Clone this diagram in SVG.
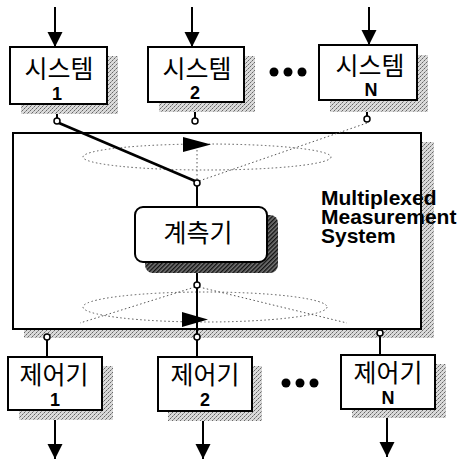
<svg xmlns="http://www.w3.org/2000/svg" width="466" height="460" viewBox="0 0 466 460">
  <defs>
    <!-- light stipple used for drop shadows -->
    <pattern id="stipple" width="4" height="4" patternUnits="userSpaceOnUse">
      <rect width="4" height="4" fill="#dadada"/>
      <rect x="0" y="0" width="1" height="1" fill="#666"/>
      <rect x="2" y="2" width="1" height="1" fill="#666"/>
      <rect x="1" y="3" width="1" height="1" fill="#999"/>
      <rect x="3" y="1" width="1" height="1" fill="#999"/>
    </pattern>
    <!-- dark hatch for the meter shadow -->
    <pattern id="hatch" width="3" height="3" patternUnits="userSpaceOnUse" patternTransform="rotate(45)">
      <rect width="3" height="3" fill="#777"/>
      <rect width="1.4" height="3" fill="#111"/>
    </pattern>
    <marker id="arrow" markerUnits="userSpaceOnUse" markerWidth="16" markerHeight="23" refX="15" refY="7.5" orient="auto" viewBox="0 0 16 15">
      <path d="M0,0 L15,7.5 L0,15 Z" fill="#000"/>
    </marker>
  </defs>
  <style>
    .box { fill: #fff; stroke: #000; stroke-width: 2; }
    .shadow { fill: url(#stipple); }
    .ko { font-family: "Noto Sans CJK KR", "Liberation Sans", sans-serif; font-size: 25px; fill: #000; text-anchor: middle; }
    .num { font-family: "Liberation Sans", Arial, sans-serif; font-weight: bold; font-size: 18px; fill: #000; text-anchor: middle; }
    .title { font-family: "Liberation Sans", Arial, sans-serif; font-weight: bold; font-size: 21px; fill: #000; }
    .wire { stroke: #000; stroke-width: 2; fill: none; }
    .thick { stroke: #000; stroke-width: 2.6; fill: none; }
    .dots { stroke: #555; stroke-width: 1; stroke-dasharray: 1.5 2.5; fill: none; }
    .flow { stroke: #000; stroke-width: 2; fill: none; marker-end: url(#arrow); }
    .tap { fill: #fff; stroke: #000; stroke-width: 1.5; }
  </style>

  <!-- multiplexed measurement system enclosure -->
  <g id="mms">
    <rect class="shadow" x="24" y="142" width="410" height="196"/>
    <rect class="box" x="13" y="133" width="408" height="196"/>
    <text class="title" x="321" y="205">Multiplexed</text>
    <text class="title" x="321" y="224">Measurement</text>
    <text class="title" x="321" y="243">System</text>
  </g>

  <!-- connectors -->
  <g id="connectors">
    <!-- inputs to systems -->
    <line class="flow" x1="55" y1="7" x2="55" y2="47"/>
    <line class="flow" x1="192" y1="7" x2="192" y2="47"/>
    <line class="flow" x1="369" y1="7" x2="369" y2="45"/>

    <!-- system taps -->
    <line class="wire" x1="57" y1="104" x2="57" y2="119"/>
    <line class="wire" x1="195" y1="102" x2="195" y2="119"/>
    <line class="wire" x1="367" y1="100" x2="367" y2="117"/>

    <!-- input scanning switch -->
    <ellipse class="dots" cx="207" cy="157" rx="124" ry="13"/>
    <line class="dots" x1="367" y1="123" x2="199" y2="181"/>
    <line class="dots" x1="197" y1="150" x2="197" y2="180"/>
    <path d="M183,137 L211,144.5 L183,152 Z" fill="#000"/>
    <line class="thick" x1="59" y1="123" x2="195" y2="181"/>
    <line class="wire" x1="197" y1="186" x2="197" y2="207"/>

    <!-- output scanning switch -->
    <ellipse class="dots" cx="205" cy="307" rx="122" ry="15"/>
    <line class="dots" x1="195" y1="287" x2="80" y2="323"/>
    <line class="dots" x1="199" y1="287" x2="347" y2="323"/>
    <line class="wire" x1="197" y1="262" x2="197" y2="282"/>
    <line class="wire" x1="197" y1="288" x2="197" y2="334"/>
    <path d="M182,312 L208,319.5 L182,327 Z" fill="#000"/>

    <!-- controller taps -->
    <line class="wire" x1="47" y1="340" x2="47" y2="357"/>
    <line class="wire" x1="197" y1="340" x2="197" y2="357"/>
    <line class="wire" x1="380" y1="336" x2="380" y2="355"/>

    <!-- controller outputs -->
    <line class="flow" x1="55" y1="410" x2="55" y2="459"/>
    <line class="flow" x1="203" y1="411" x2="203" y2="459"/>
    <line class="flow" x1="387" y1="409" x2="387" y2="457"/>

    <!-- tap points -->
    <circle class="tap" cx="57" cy="121" r="3"/>
    <circle class="tap" cx="195" cy="121" r="3"/>
    <circle class="tap" cx="367" cy="119" r="3"/>
    <circle class="tap" cx="197" cy="183" r="3"/>
    <circle class="tap" cx="197" cy="285" r="3"/>
    <circle class="tap" cx="47" cy="337" r="3"/>
    <circle class="tap" cx="197" cy="337" r="3"/>
    <circle class="tap" cx="380" cy="333" r="3"/>
  </g>

  <!-- meter -->
  <g id="meter">
    <rect x="145" y="215" width="133" height="58" rx="8" fill="url(#hatch)"/>
    <rect class="box" x="135" y="207" width="132" height="55" rx="8"/>
    <text class="ko" x="198" y="242">계측기</text>
  </g>

  <!-- systems -->
  <g id="system-1">
    <rect class="shadow" x="21" y="56" width="97" height="58"/>
    <rect class="box" x="10" y="47" width="97" height="57"/>
    <text class="ko" x="59" y="78">시스템</text>
    <text class="num" x="57" y="100">1</text>
  </g>
  <g id="system-2">
    <rect class="shadow" x="159" y="56" width="96" height="56"/>
    <rect class="box" x="148" y="47" width="96" height="55"/>
    <text class="ko" x="197" y="78">시스템</text>
    <text class="num" x="195" y="99">2</text>
  </g>
  <g id="system-n">
    <rect class="shadow" x="330" y="55" width="98" height="57"/>
    <rect class="box" x="319" y="45" width="98" height="55"/>
    <text class="ko" x="370" y="75">시스템</text>
    <text class="num" x="371" y="96">N</text>
  </g>
  <g id="system-ellipsis">
    <circle cx="274" cy="72" r="4.5"/>
    <circle cx="288" cy="72" r="4.5"/>
    <circle cx="302" cy="72" r="4.5"/>
  </g>

  <!-- controllers -->
  <g id="controller-1">
    <rect class="shadow" x="19" y="366" width="94" height="54"/>
    <rect class="box" x="8" y="357" width="94" height="53"/>
    <text class="ko" x="54" y="384">제어기</text>
    <text class="num" x="55" y="406">1</text>
  </g>
  <g id="controller-2">
    <rect class="shadow" x="168" y="366" width="94" height="55"/>
    <rect class="box" x="158" y="357" width="94" height="54"/>
    <text class="ko" x="205" y="384">제어기</text>
    <text class="num" x="205" y="406">2</text>
  </g>
  <g id="controller-n">
    <rect class="shadow" x="352" y="364" width="94" height="54"/>
    <rect class="box" x="341" y="355" width="94" height="54"/>
    <text class="ko" x="388" y="382">제어기</text>
    <text class="num" x="388" y="404">N</text>
  </g>
  <g id="controller-ellipsis">
    <circle cx="286" cy="383" r="4.5"/>
    <circle cx="300" cy="383" r="4.5"/>
    <circle cx="314" cy="383" r="4.5"/>
  </g>
</svg>
